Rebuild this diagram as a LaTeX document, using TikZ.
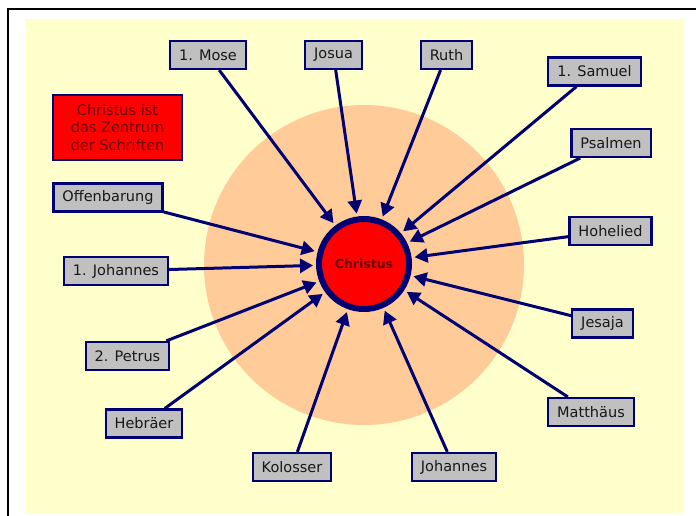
\documentclass[tikz,border=0pt]{standalone}
\usepackage{fontspec}
\setmainfont{DejaVu Sans}
\usetikzlibrary{arrows.meta}
\definecolor{bgyellow}{HTML}{FFFFCC}
\definecolor{peach}{HTML}{FFCC99}
\definecolor{navy}{HTML}{000073}
\definecolor{boxgray}{HTML}{C0C0C0}
\definecolor{textdark}{HTML}{181818}
\definecolor{maroon}{HTML}{6E0000}
\begin{document}
\begin{tikzpicture}[x=1pt,y=-1pt,
  book/.style={draw=navy, line width=2.2pt, fill=boxgray, text=textdark,
    font=\fontsize{14.5}{17}\selectfont, minimum height=28pt, inner xsep=9pt, inner ysep=0pt},
  link/.style={navy, line width=3pt, -{Triangle[length=13pt,width=14pt]}, shorten >=3pt},
  center/.style={circle, draw=navy, line width=6pt, fill=red, minimum size=90pt, inner sep=0pt,
    font=\fontsize{12.5}{14}\bfseries\selectfont, text=maroon},
  title/.style={draw=navy, line width=2.2pt, fill=red, text=maroon, align=center,
    font=\fontsize{14.5}{17.5}\selectfont, minimum width=129pt, minimum height=65pt, inner sep=0pt}]
\useasboundingbox (0,0) rectangle (696,515);
\fill[white] (0,0) rectangle (696,515);
\draw[black, line width=2pt] (8,9) rectangle (720,540);
\fill[bgyellow] (26,19) rectangle (684,513);
\fill[peach] (364,265) circle[radius=160];

\node[title] (head) at (117.5,127.5) {Christus ist\\das Zentrum\\der Schriften};

\node[center] (c) at (364,264) {Christus};

\node[book] (mose) at (208,55) {1. Mose};
\node[book] (josua) at (333.5,55) {Josua};
\node[book] (ruth) at (446.5,55) {Ruth};
\node[book] (samuel) at (594.5,71.5) {1. Samuel};
\node[book] (psalmen) at (611,143) {Psalmen};
\node[book] (hohelied) at (610.5,231) {Hohelied};
\node[book] (jesaja) at (602.5,323.5) {Jesaja};
\node[book] (matth) at (591,412) {Matthäus};
\node[book] (joh) at (454,467) {Johannes};
\node[book] (kol) at (292,467) {Kolosser};
\node[book] (hebr) at (144,423.5) {Hebräer};
\node[book] (petr) at (127.5,356) {2. Petrus};
\node[book] (ijoh) at (116,271) {1. Johannes};
\node[book] (offb) at (108,197.5) {Offenbarung};

\foreach \b in {mose,josua,ruth,samuel,psalmen,hohelied,jesaja,matth,joh,kol,hebr,petr,ijoh,offb}
  \draw[link] (\b) -- (c);
\end{tikzpicture}
\end{document}
